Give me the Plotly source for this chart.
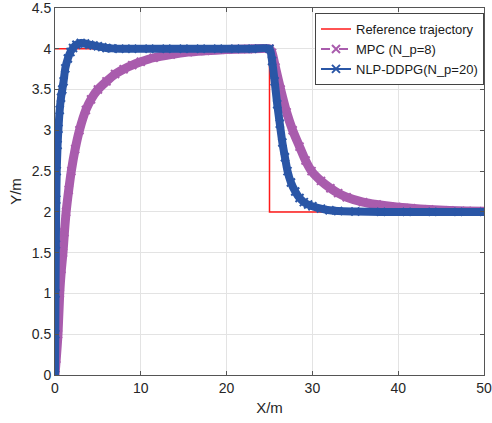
import plotly.graph_objects as go

# reference trajectory (step at x=25)
ref_x = [0, 25, 25, 50]
ref_y = [4, 4, 2, 2]

# MPC (N_p=8)
mpc_x = [0, 0.15, 0.35, 0.55, 0.75, 0.93, 1.1, 1.3, 1.6, 1.9, 2.35, 2.85, 3.6, 4.2,
         5.0, 6.0, 7.0, 8.0, 9.0, 10, 11.5, 13.5, 15.5, 17.5, 20, 22.5, 25,
         25.3, 25.7, 26.3, 27.0, 27.7, 28.5, 29.2, 29.9, 31.0, 32.1, 33.0, 34.0,
         35.9, 37.5, 39.8, 41.5, 43.6, 46, 48, 50]
mpc_y = [0, 0.2, 0.5, 1.0, 1.3, 1.5, 1.75, 2.0, 2.27, 2.5, 2.77, 3.0, 3.25, 3.38,
         3.5, 3.6, 3.69, 3.75, 3.8, 3.84, 3.89, 3.93, 3.96, 3.975, 3.99, 3.997, 4.0,
         3.95, 3.77, 3.5, 3.22, 3.0, 2.8, 2.63, 2.5, 2.38, 2.29, 2.23, 2.18,
         2.12, 2.09, 2.06, 2.045, 2.03, 2.018, 2.012, 2.008]

# NLP-DDPG (N_p=20)
ddpg_x = [0, 0.03, 0.06, 0.1, 0.15, 0.2, 0.3, 0.4, 0.55, 0.7, 0.85, 1.0, 1.2, 1.5,
          1.8, 2.1, 2.5, 3.0, 3.5, 4.0, 4.5, 5.0, 5.5, 6.0, 6.6, 7.5, 9, 11, 13,
          15, 17, 19, 21, 23, 25.0, 25.3, 25.6, 25.9, 26.2, 26.5, 26.8, 27.1,
          27.5, 28.0, 28.5, 29.0, 29.5, 30, 31, 32, 33, 35, 38, 41, 44, 47, 50]
ddpg_y = [0, 0.5, 1.0, 1.6, 2.15, 2.5, 2.82, 3.02, 3.25, 3.4, 3.5, 3.6, 3.76, 3.88,
          3.96, 4.01, 4.05, 4.07, 4.065, 4.05, 4.04, 4.03, 4.02, 4.01, 4.005, 4.0, 4.0, 4.0, 4.0,
          4.0, 4.0, 4.0, 4.0, 4.0, 4.0, 3.85, 3.6, 3.32, 3.08, 2.85, 2.67, 2.5,
          2.36, 2.25, 2.17, 2.12, 2.09, 2.07, 2.04, 2.02, 2.01, 2.005, 2.0, 2.0, 2.0, 2.0, 2.0]

RED = '#ff1a1a'
PURPLE = '#a95cad'
BLUE = '#2a56a6'

fig = go.Figure()
fig.add_trace(go.Scatter(x=ref_x, y=ref_y, mode='lines',
                         line=dict(color=RED, width=1.5), name='Reference trajectory'))
# thick bands = dense markers in the original
fig.add_trace(go.Scatter(x=mpc_x, y=mpc_y, mode='lines+markers', showlegend=False,
                         line=dict(color=PURPLE, width=9, shape='spline', smoothing=0.6),
                         marker=dict(symbol='x-thin', size=8, line=dict(color=PURPLE, width=2))))
fig.add_trace(go.Scatter(x=ddpg_x, y=ddpg_y, mode='lines+markers', showlegend=False,
                         line=dict(color=BLUE, width=8, shape='spline', smoothing=0.6),
                         marker=dict(symbol='x-thin', size=8, line=dict(color=BLUE, width=2))))
# legend-only entries
fig.add_trace(go.Scatter(x=[None], y=[None], mode='lines+markers', name='MPC (N_p=8)',
                         line=dict(color=PURPLE, width=2, dash='dash'),
                         marker=dict(symbol='x-thin', size=8, line=dict(color=PURPLE, width=2))))
fig.add_trace(go.Scatter(x=[None], y=[None], mode='lines+markers', name='NLP-DDPG(N_p=20)',
                         line=dict(color=BLUE, width=2),
                         marker=dict(symbol='x-thin', size=8, line=dict(color=BLUE, width=2))))

axis_style = dict(showgrid=True, gridcolor='#e3e3e3', gridwidth=1,
                  showline=True, linecolor='#555555', linewidth=1, mirror='ticks',
                  ticks='inside', ticklen=4, tickcolor='#555555', zeroline=False,
                  automargin=False, ticklabeloverflow='allow',
                  tickfont=dict(size=14, color='#262626'))

fig.update_xaxes(range=[0, 50], dtick=10, title=dict(text='X/m', font=dict(size=15, color='#262626'), standoff=7),
                 **axis_style)
fig.update_yaxes(range=[0, 4.5], dtick=0.5, title=dict(text='Y/m', font=dict(size=15, color='#262626'), standoff=6),
                 **axis_style)

fig.update_layout(
    width=492, height=423,
    margin=dict(l=55, r=8, t=8, b=48),
    paper_bgcolor='white', plot_bgcolor='white',
    font=dict(family='Liberation Sans, Arial, sans-serif', color='#262626'),
    legend=dict(x=1, y=0.986, xanchor='right', yanchor='top',
                bgcolor='white', bordercolor='#444444', borderwidth=1,
                font=dict(size=13, color='#1a1a1a'), tracegroupgap=0,
                itemwidth=30),
)

# drop the default page margin so the figure sits at the window's corner
fig.write_html("out.html", config={'displayModeBar': False},
               post_script="document.body.style.margin='0';")
